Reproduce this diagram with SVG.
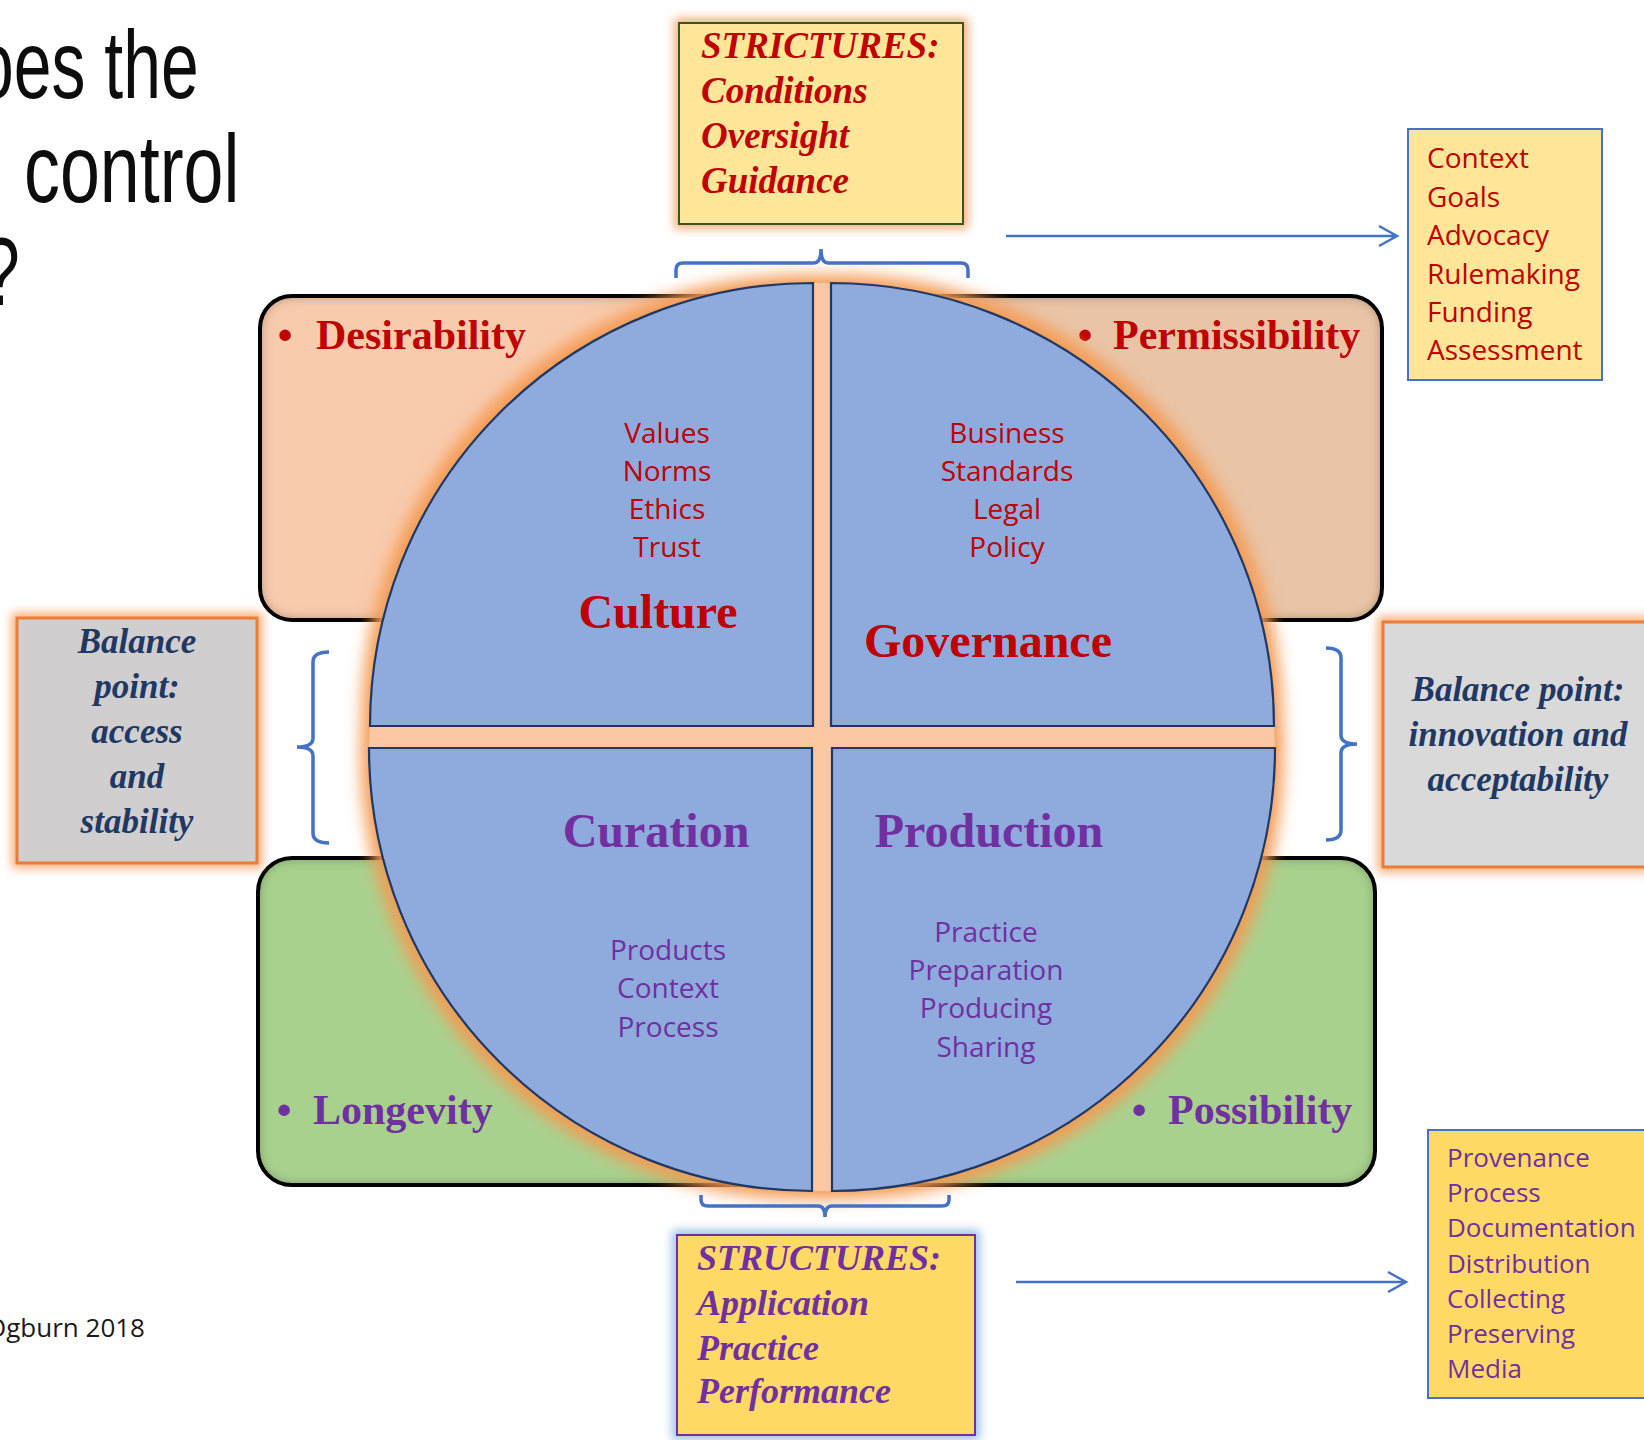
<svg xmlns="http://www.w3.org/2000/svg" width="1644" height="1440" viewBox="0 0 1644 1440">
<defs>
<style>
.tt{font-family:"Liberation Sans",Arial,sans-serif;font-size:97px;fill:#0d0d0d}
.ser{font-family:"Liberation Serif","Times New Roman",serif;font-weight:bold}
.bi{font-family:"Liberation Serif","Times New Roman",serif;font-weight:bold;font-style:italic}
.sans{font-family:"Open Sans","Noto Sans",sans-serif}
.red{fill:#C00000}
.pur{fill:#7030A0}
.navy{fill:#1F3864}
.mid{text-anchor:middle}
.brace{fill:none;stroke:#4472C4;stroke-width:3.5}
.arrow{fill:none;stroke:#4472C4;stroke-width:2.5}
.quad{fill:#8FAADC;stroke:#1F3864;stroke-width:2.2}
</style>
<linearGradient id="topFill" x1="0" x2="1" y1="0" y2="0">
<stop offset="0.5" stop-color="#F8CBAD"/><stop offset="0.5" stop-color="#E9C4A6"/>
</linearGradient>
<filter id="inset" x="-5%" y="-10%" width="110%" height="120%">
<feFlood flood-color="#000" flood-opacity="0.7" result="f"/>
<feComposite in="f" in2="SourceAlpha" operator="out" result="o"/>
<feGaussianBlur in="o" stdDeviation="6" result="b"/>
<feComposite in="b" in2="SourceAlpha" operator="in" result="s"/>
<feMerge><feMergeNode in="SourceGraphic"/><feMergeNode in="s"/></feMerge>
</filter>
<filter id="glowC" x="-10%" y="-10%" width="120%" height="120%">
<feMorphology in="SourceAlpha" operator="dilate" radius="8" result="d"/>
<feGaussianBlur in="d" stdDeviation="8" result="b"/>
<feFlood flood-color="#F59A52"/>
<feComposite in2="b" operator="in" result="g"/>
<feMerge><feMergeNode in="g"/><feMergeNode in="SourceGraphic"/></feMerge>
</filter>
<filter id="glowO" x="-20%" y="-20%" width="140%" height="140%">
<feMorphology in="SourceAlpha" operator="dilate" radius="4" result="d"/>
<feGaussianBlur in="d" stdDeviation="5" result="b"/>
<feFlood flood-color="#F8B07C"/>
<feComposite in2="b" operator="in" result="g"/>
<feMerge><feMergeNode in="g"/><feMergeNode in="SourceGraphic"/></feMerge>
</filter>
<filter id="glowB" x="-20%" y="-20%" width="140%" height="140%">
<feMorphology in="SourceAlpha" operator="dilate" radius="4" result="d"/>
<feGaussianBlur in="d" stdDeviation="5" result="b"/>
<feFlood flood-color="#9DC3E6"/>
<feComposite in2="b" operator="in" result="g"/>
<feMerge><feMergeNode in="g"/><feMergeNode in="SourceGraphic"/></feMerge>
</filter>
</defs>
<rect width="1644" height="1440" fill="#FFFFFF"/>

<g id="title">
<text class="tt" transform="translate(-24,98) scale(0.70,1)">oes the</text>
<text class="tt" transform="translate(24,202) scale(0.74,1)">control</text>
<text class="tt" transform="translate(-18,305) scale(0.70,1)">?</text>
</g>

<g id="credit">
<text class="sans" x="-14" y="1337" font-size="26" fill="#1a1a1a">Ogburn 2018</text>
</g>

<g id="top-band">
<rect x="260" y="296" width="1122" height="324" rx="32" fill="url(#topFill)" filter="url(#inset)"/>
<rect x="260" y="296" width="1122" height="324" rx="32" fill="none" stroke="#000" stroke-width="4"/>
<text class="ser red mid" x="285" y="349" font-size="42">•</text>
<text class="ser red" x="316" y="349" font-size="42">Desirability</text>
<text class="ser red mid" x="1085" y="349" font-size="42">•</text>
<text class="ser red" x="1113" y="349" font-size="42">Permissibility</text>
</g>

<g id="bottom-band">
<rect x="258" y="858" width="1117" height="327" rx="34" fill="#A9D18E" filter="url(#inset)"/>
<rect x="258" y="858" width="1117" height="327" rx="34" fill="none" stroke="#000" stroke-width="4"/>
<text class="ser pur mid" x="284" y="1124" font-size="42">•</text>
<text class="ser pur" x="313" y="1124" font-size="42">Longevity</text>
<text class="ser pur mid" x="1139" y="1124" font-size="42">•</text>
<text class="ser pur" x="1168" y="1124" font-size="42">Possibility</text>
</g>

<g id="circle-halo">
<path d="M 370 726 A 443 443 0 0 1 813 283 L 831 283 A 443 443 0 0 1 1274 726 L 1275 748 A 443 443 0 0 1 832 1191 L 812 1191 A 443 443 0 0 1 369 748 Z" fill="#FBC7A3" filter="url(#glowC)"/>
</g>

<g id="culture">
<path class="quad" d="M 813 726 L 370 726 A 443 443 0 0 1 813 283 Z"/>
<text class="sans red mid" font-size="28"><tspan x="667" y="443">Values</tspan><tspan x="667" y="481">Norms</tspan><tspan x="667" y="519">Ethics</tspan><tspan x="667" y="557">Trust</tspan></text>
<text class="ser red mid" x="658" y="628" font-size="48">Culture</text>
</g>

<g id="governance">
<path class="quad" d="M 831 726 L 831 283 A 443 443 0 0 1 1274 726 Z"/>
<text class="sans red mid" font-size="28"><tspan x="1007" y="443">Business</tspan><tspan x="1007" y="481">Standards</tspan><tspan x="1007" y="519">Legal</tspan><tspan x="1007" y="557">Policy</tspan></text>
<text class="ser red mid" x="988" y="657" font-size="48">Governance</text>
</g>

<g id="curation">
<path class="quad" d="M 812 748 L 812 1191 A 443 443 0 0 1 369 748 Z"/>
<text class="ser pur mid" x="656" y="847" font-size="48">Curation</text>
<text class="sans pur mid" font-size="28"><tspan x="668" y="960">Products</tspan><tspan x="668" y="998">Context</tspan><tspan x="668" y="1037">Process</tspan></text>
</g>

<g id="production">
<path class="quad" d="M 832 748 L 1275 748 A 443 443 0 0 1 832 1191 Z"/>
<text class="ser pur mid" x="989" y="847" font-size="48">Production</text>
<text class="sans pur mid" font-size="28"><tspan x="986" y="942">Practice</tspan><tspan x="986" y="980">Preparation</tspan><tspan x="986" y="1018">Producing</tspan><tspan x="986" y="1057">Sharing</tspan></text>
</g>

<g id="strictures">
<rect x="679" y="23" width="284" height="201" fill="#FFE699" stroke="#385723" stroke-width="2" filter="url(#glowO)"/>
<text class="bi red" font-size="37"><tspan x="701" y="58">STRICTURES:</tspan><tspan x="701" y="103">Conditions</tspan><tspan x="701" y="148">Oversight</tspan><tspan x="701" y="193">Guidance</tspan></text>
</g>

<g id="governance-list">
<rect x="1408" y="129" width="194" height="251" fill="#FFE699" stroke="#4472C4" stroke-width="2"/>
<text class="sans red" font-size="28"><tspan x="1427" y="168">Context</tspan><tspan x="1427" y="206.5">Goals</tspan><tspan x="1427" y="245">Advocacy</tspan><tspan x="1427" y="283.5">Rulemaking</tspan><tspan x="1427" y="322">Funding</tspan><tspan x="1427" y="360">Assessment</tspan></text>
</g>

<g id="balance-left">
<rect x="17" y="618" width="240" height="245" fill="#D0CECE" stroke="#ED7D31" stroke-width="3" filter="url(#glowO)"/>
<text class="bi navy mid" font-size="35"><tspan x="137" y="653">Balance</tspan><tspan x="137" y="698">point:</tspan><tspan x="137" y="743">access</tspan><tspan x="137" y="788">and</tspan><tspan x="137" y="833">stability</tspan></text>
</g>

<g id="balance-right">
<rect x="1383" y="622" width="300" height="245" fill="#D9D9D9" stroke="#ED7D31" stroke-width="3" filter="url(#glowO)"/>
<text class="bi navy mid" font-size="35"><tspan x="1518" y="701">Balance point:</tspan><tspan x="1518" y="746">innovation and</tspan><tspan x="1518" y="791">acceptability</tspan></text>
</g>

<g id="structures">
<rect x="677" y="1235" width="298" height="200" fill="#FFD966" stroke="#7030A0" stroke-width="2" filter="url(#glowB)"/>
<text class="bi pur" font-size="36"><tspan x="697" y="1270">STRUCTURES:</tspan><tspan x="697" y="1315">Application</tspan><tspan x="697" y="1360">Practice</tspan><tspan x="697" y="1403">Performance</tspan></text>
</g>

<g id="curation-list">
<rect x="1428" y="1130" width="240" height="268" fill="#FFD966" stroke="#4472C4" stroke-width="2"/>
<text class="sans pur" font-size="26"><tspan x="1447" y="1167">Provenance</tspan><tspan x="1447" y="1202">Process</tspan><tspan x="1447" y="1237">Documentation</tspan><tspan x="1447" y="1272.5">Distribution</tspan><tspan x="1447" y="1307.5">Collecting</tspan><tspan x="1447" y="1342.5">Preserving</tspan><tspan x="1447" y="1377.5">Media</tspan></text>
</g>

<g id="connectors">
<path class="brace" d="M 676 278 L 676 270 Q 676 263 683 263 L 814 263 Q 821 263 821 249 Q 821 263 828 263 L 961 263 Q 968 263 968 270 L 968 278"/>
<path class="brace" d="M 701 1195 L 701 1200 Q 701 1206 708 1206 L 818 1206 Q 825 1206 825 1217 Q 825 1206 832 1206 L 942 1206 Q 949 1206 949 1200 L 949 1195"/>
<path class="brace" d="M 329 652 Q 313 652 313 662 L 313 738 Q 313 747 297 747 Q 313 747 313 756 L 313 833 Q 313 843 329 843"/>
<path class="brace" d="M 1326 648 Q 1341 648 1341 658 L 1341 735 Q 1341 744 1357 744 Q 1341 744 1341 753 L 1341 830 Q 1341 840 1326 840"/>
<path class="arrow" d="M 1006 236 L 1396 236 M 1379 226 L 1397 236 L 1379 246"/>
<path class="arrow" d="M 1016 1282 L 1406 1282 M 1388 1272 L 1406 1282 L 1388 1292"/>
</g>
</svg>
